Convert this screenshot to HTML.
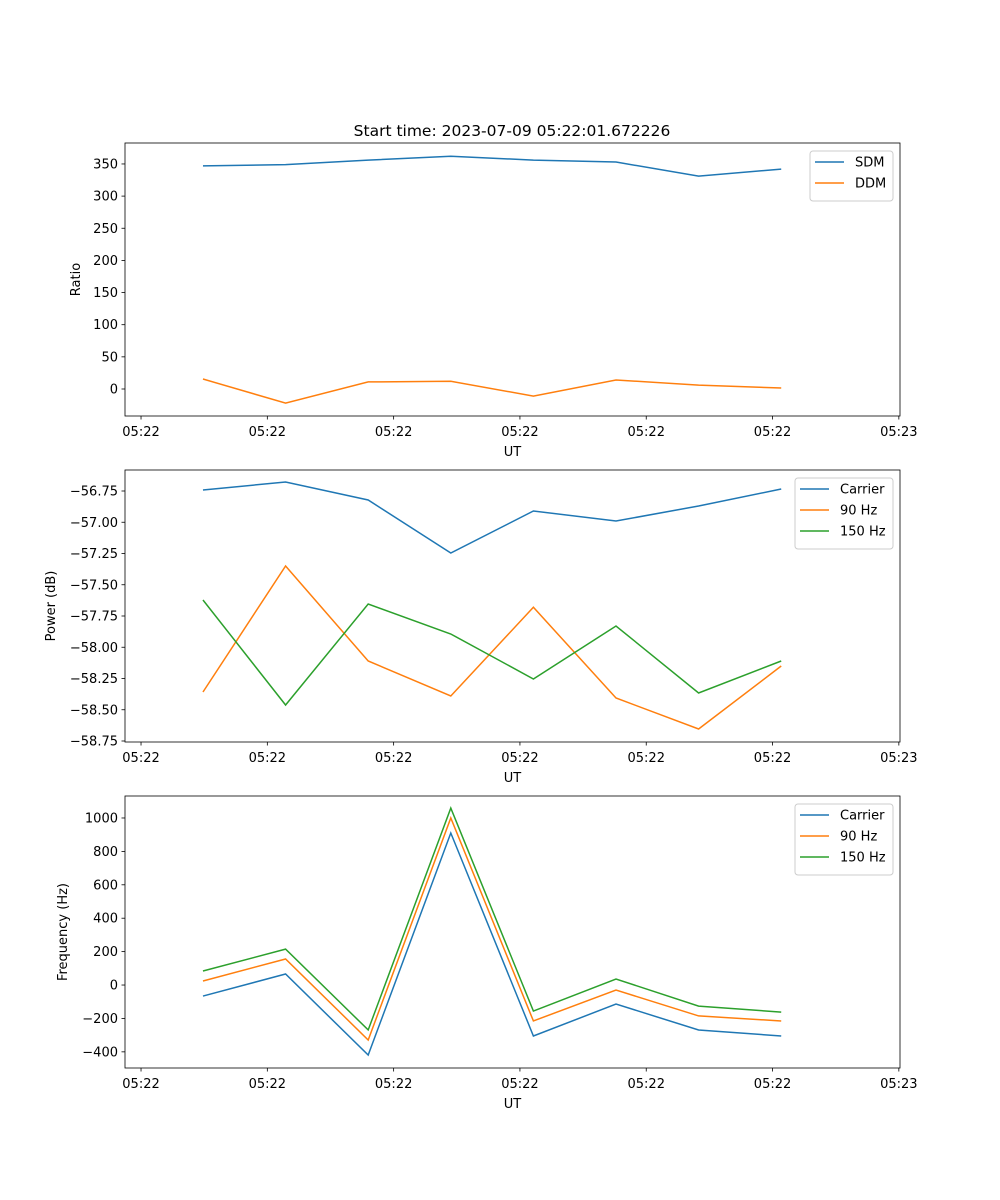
<!DOCTYPE html>
<html><head><meta charset="utf-8"><style>
body{margin:0;background:#fff}
svg{display:block;font-family:"DejaVu Sans","Liberation Sans",sans-serif}
</style></head><body>
<svg id="fig" width="1000" height="1200" xmlns="http://www.w3.org/2000/svg"></svg>
<script>
const pointIndex=[0,1,2,3,4,5,6,7];
const tickIndex=[-0.75,0.779,2.308,3.837,5.366,6.895,8.424];
const tickLabels=["05:22","05:22","05:22","05:22","05:22","05:22","05:23"];
const sdm=[347,349,356,362,356,353,331,342];
const ddm=[15.5,-22,11,12,-11,14,6,1.5];
const powCarrier=[-56.742,-56.678,-56.822,-57.246,-56.91,-56.99,-56.87,-56.734];
const pow90=[-58.358,-57.35,-58.11,-58.39,-57.68,-58.406,-58.654,-58.15];
const pow150=[-57.622,-58.462,-57.654,-57.894,-58.254,-57.83,-58.366,-58.11];
const freqCarrier=[-66,66,-419,910,-305,-114,-269,-305];
const freq90=[24,156,-329,1000,-215,-30,-185,-215];
const freq150=[84,215,-269,1059,-156,36,-126,-162];
const ticks1=[0,50,100,150,200,250,300,350];
const ticks2=[-58.75,-58.5,-58.25,-58,-57.75,-57.5,-57.25,-57,-56.75];
const ticks3=[-400,-200,0,200,400,600,800,1000];

const NS="http://www.w3.org/2000/svg";
const svg=document.getElementById('fig');
function el(t,a,p){const e=document.createElementNS(NS,t);for(const k in a)e.setAttribute(k,a[k]);(p||svg).appendChild(e);return e;}
const L=125,R=900,xMin=-0.944,xMax=8.438;
const X=v=>L+(v-xMin)/(xMax-xMin)*(R-L);
const C=["#1f77b4","#ff7f0e","#2ca02c"];

function panel(name,top,bot,yMin,yMax,yTicks,fmt,ylabel,series,names,legend){
  const g=el('g',{});
  
  
  const Y=v=>bot-(v-yMin)/(yMax-yMin)*(bot-top);
  series.forEach((s,i)=>{
    const p=el('polyline',{points:s.map((v,j)=>X(pointIndex[j])+','+Y(v)).join(' '),fill:'none',stroke:C[i],'stroke-width':1.5},g);
    
    
  });
  const f=el('rect',{x:L,y:top,width:R-L,height:bot-top,fill:'none',stroke:'#000','stroke-width':0.8},g);
  
  tickIndex.forEach((t,i)=>{
    const x=X(t);
    el('line',{x1:x,x2:x,y1:bot,y2:bot+3.5,stroke:'#000','stroke-width':0.8},g);
    const tx=el('text',{x:x,y:bot+20,'font-size':13,'text-anchor':'middle'},g);tx.textContent=tickLabels[i];
    
  });
  yTicks.forEach(t=>{
    const y=Y(t);
    el('line',{x1:L,x2:L-3.5,y1:y,y2:y,stroke:'#000','stroke-width':0.8},g);
    const tx=el('text',{x:L-7,y:y+4.5,'font-size':13,'text-anchor':'end'},g);tx.textContent=fmt(t);
    
  });
  const xl=el('text',{x:(L+R)/2,y:bot+40,'font-size':13,'text-anchor':'middle'},g);xl.textContent='UT';
  
  const yx=legend.ylx, yc=(top+bot)/2;
  const yl=el('text',{x:yx,y:yc,'font-size':13,'text-anchor':'middle',transform:`rotate(-90 ${yx} ${yc})`},g);yl.textContent=ylabel;
  
  const lg=el('g',{},g);
  
  el('rect',{x:legend.x,y:top+8,width:legend.w,height:8+21*names.length,rx:3,fill:'#fff','fill-opacity':0.8,stroke:'#ccc'},lg);
  names.forEach((n,i)=>{
    const y=top+19+21*i;
    el('line',{x1:legend.x+5,x2:legend.x+34,y1:y,y2:y,stroke:C[i],'stroke-width':1.5},lg);
    const t=el('text',{x:legend.x+45,y:y+4.5,'font-size':13},lg);t.textContent=n;
    
  });
}
const title=el('text',{x:512,y:136,'font-size':15.5,'text-anchor':'middle'});
title.textContent='Start time: 2023-07-09 05:22:01.672226';


panel('ratio-panel',143,416,-42,382.6,ticks1,v=>String(v),'Ratio',[sdm,ddm],['SDM','DDM'],{x:810,w:83,ylx:80});
panel('power-panel',470,742,-58.758,-56.582,ticks2,v=>(v<0?'\u2212':'')+Math.abs(v).toFixed(2),'Power (dB)',[powCarrier,pow90,pow150],['Carrier','90 Hz','150 Hz'],{x:795,w:98,ylx:55});
panel('frequency-panel',796,1068,-496.7,1131.6,ticks3,v=>(v<0?'\u2212':'')+Math.abs(v),'Frequency (Hz)',[freqCarrier,freq90,freq150],['Carrier','90 Hz','150 Hz'],{x:795,w:98,ylx:67});
</script>
</body></html>
